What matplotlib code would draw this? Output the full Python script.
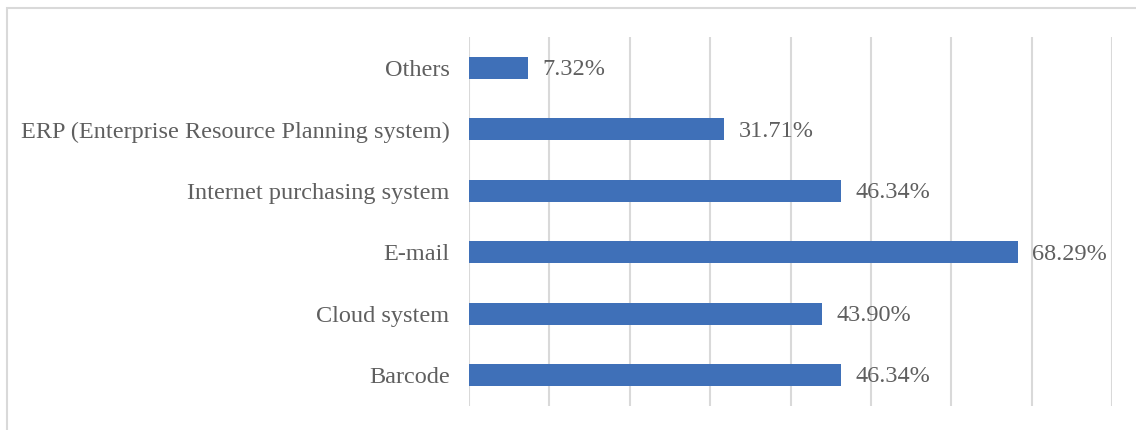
import matplotlib.pyplot as plt
from matplotlib.patches import Rectangle

categories = ['Barcode', 'Cloud system', 'E-mail', 'Internet purchasing system',
              'ERP (Enterprise Resource Planning system)', 'Others']
values = [46.34, 43.90, 68.29, 46.34, 31.71, 7.32]

plt.rcParams['font.family'] = ['Liberation Serif', 'DejaVu Serif']
text_color = '#5f5f5f'

fig = plt.figure(figsize=(11.36, 4.30), dpi=100)
ax = fig.add_axes([469/1136, 1 - 405.6/430, (1112 - 469)/1136, (405.6 - 37.4)/430])

# outer chart border
fig.patches.append(Rectangle((7/1136, -0.1), 1.2, (1 - 8/430) + 0.1, transform=fig.transFigure,
                             fill=False, edgecolor='#D9D9D9', linewidth=1.5))

y = range(len(categories))
ax.barh(y, values, height=0.36, color='#3F70B8', zorder=3)
for yi, v in zip(y, values):
    ax.text(v + 1.8, yi - 0.03, f'{v:.2f}%', va='center', ha='left', fontsize=17.5, color=text_color)

ax.set_xlim(0, 80)
ax.set_ylim(-0.5, len(categories) - 0.5)
ax.set_xticks(range(0, 81, 10))
ax.set_xticklabels([])
ax.set_yticks(list(y))
ax.set_yticklabels(categories, fontsize=17.5, color=text_color)
ax.tick_params(axis='both', length=0)
ax.tick_params(axis='y', pad=14)
ax.grid(axis='x', color='#D9D9D9', linewidth=1.5, zorder=0)
for s in ax.spines.values():
    s.set_visible(False)

fig.savefig('out.png', dpi=100)
